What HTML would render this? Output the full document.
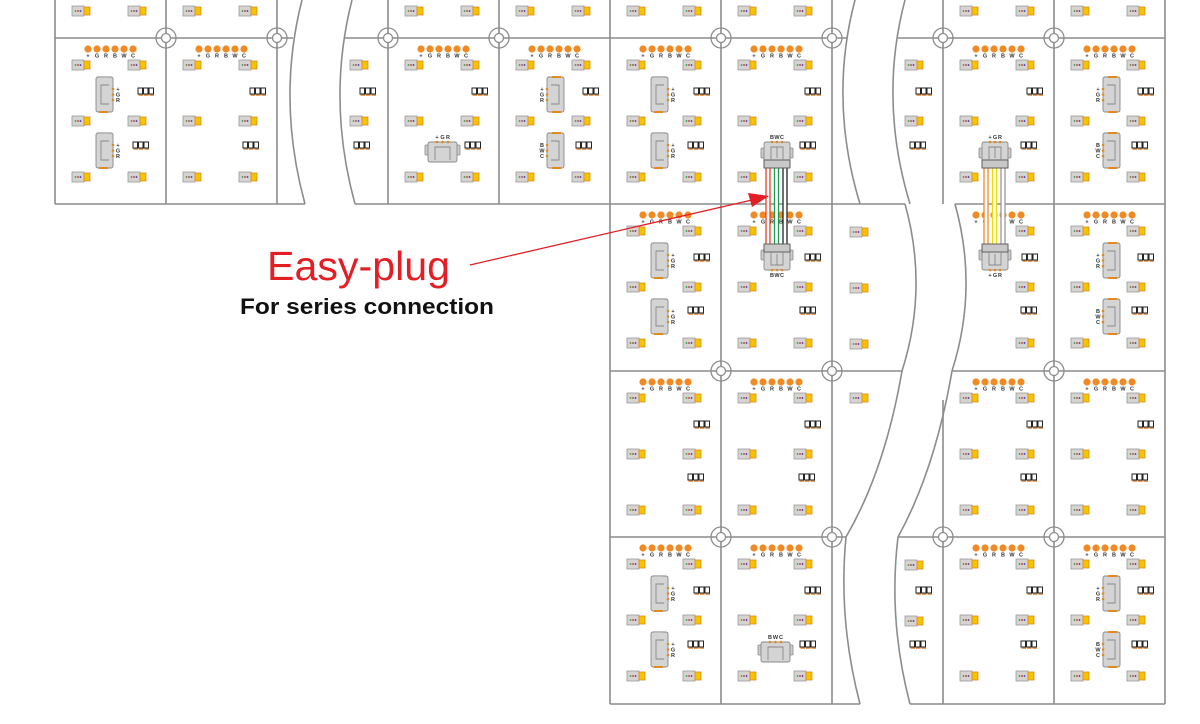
<!DOCTYPE html>
<html><head><meta charset="utf-8">
<style>
html,body{margin:0;padding:0;background:#fff;}
svg{display:block;}
</style></head>
<body>
<svg id="s" width="1200" height="724" viewBox="0 0 1200 724" xmlns="http://www.w3.org/2000/svg" font-family="Liberation Sans, sans-serif">
<g id="grid" fill="none" stroke="#8c8c8c" stroke-width="1.6">
<path d="M55,0V204M166,0V204M277,0V204M55,38H293M55,204H305"/>
<path d="M302,0Q276.5,100 305,204M352,0Q326.5,100 355,204"/>
<path d="M345,38H847M388,0V204M499,0V204M610,0V204M721,0V204M832,0V204M355,204H905"/>
<path d="M855,0Q828.5,100 860,204M905,0Q878.5,100 910,204"/>
<path d="M898,38H1165M943,0V204M1054,0V204M1165,0V704M955,204H1165"/>
<path d="M610,204V704M721,204V704M832,204V704M1054,204V704"/>
<path d="M905,204Q928.5,288 902,371M955,204Q978.5,288 952,371"/>
<path d="M610,371H902M952,371H1165"/>
<path d="M902,371Q885,470 846,537M952,371Q935,470 898,537"/>
<path d="M943,400V704M610,537H846M898,537H1165"/>
<path d="M846,537Q838,620 860,704M898,537Q888,620 910,704"/>
<path d="M610,704H860M910,704H1165"/>
</g>
<g id="c"></g>
<g>
<text x="267" y="280" font-size="41" fill="#e31e24" textLength="183" lengthAdjust="spacingAndGlyphs">Easy-plug</text>
<text x="240" y="314" font-size="22" font-weight="bold" fill="#111" textLength="254" lengthAdjust="spacingAndGlyphs">For series connection</text>
<line x1="470" y1="265" x2="752" y2="200" stroke="#e31e24" stroke-width="1.3"/>
<polygon points="769,196 748,193 752,207" fill="#e31e24"/>
</g>
</svg>
<script>
var o=[];
function led(x,y){o.push('<rect x="'+x+'" y="'+(y-5)+'" width="12" height="10" fill="#d6d3d0" stroke="#9a9a9a" stroke-width="0.8"/>'+
'<circle cx="'+(x+3.5)+'" cy="'+y+'" r="0.9" fill="#2a9d4a"/><circle cx="'+(x+6)+'" cy="'+y+'" r="0.9" fill="#d22"/><circle cx="'+(x+8.5)+'" cy="'+y+'" r="0.9" fill="#33c"/>'+
'<rect x="'+(x+12)+'" y="'+(y-4)+'" width="6" height="8" fill="#f4c400" stroke="#e08a20" stroke-width="0.8"/>');}
function leds(px,py,left){var ys=[27,83,139];for(var i=0;i<3;i++){if(left!==false)led(px+17,py+ys[i]);led(px+73,py+ys[i]);}}
function ddd(x,y){for(var i=0;i<3;i++){o.push('<rect x="'+(x+i*5.5+0.5)+'" y="'+(y-2)+'" width="4.5" height="6" fill="#e8a060"/><rect x="'+(x+i*5.5)+'" y="'+(y-4)+'" width="4.5" height="6" fill="#fff" stroke="#222" stroke-width="1"/>');}}
var L=['+','G','R','B','W','C'];
function dots(px,py){for(var i=0;i<6;i++){var x=px+33+9*i;o.push('<circle cx="'+x+'" cy="'+(py+11)+'" r="3.6" fill="#f08a24"/><text x="'+x+'" y="'+(py+19.5)+'" font-size="5.5" font-weight="bold" text-anchor="middle" fill="#333">'+L[i]+'</text>');}}
function vconn(x,y,side,lab){
 o.push('<rect x="'+x+'" y="'+y+'" width="17" height="35" rx="2" fill="#d4d4d4" stroke="#888" stroke-width="0.9"/>');
 if(side=='r'){o.push('<path d="M'+(x+13)+','+(y+8)+'H'+(x+5)+'V'+(y+27)+'H'+(x+13)+'" fill="none" stroke="#888" stroke-width="0.9"/><rect x="'+(x+3)+'" y="'+(y-1)+'" width="9" height="2" fill="#bbb"/><rect x="'+(x+3)+'" y="'+(y+34)+'" width="9" height="2" fill="#e08a20"/>');
  for(var i=0;i<3;i++){o.push('<circle cx="'+(x+17)+'" cy="'+(y+12+i*5.5)+'" r="1.3" fill="#e08a20"/><text x="'+(x+22)+'" y="'+(y+14+i*5.5)+'" font-size="5.5" font-weight="bold" text-anchor="middle" fill="#333">'+lab[i]+'</text>');}}
 else{o.push('<path d="M'+(x+4)+','+(y+8)+'H'+(x+12)+'V'+(y+27)+'H'+(x+4)+'" fill="none" stroke="#888" stroke-width="0.9"/><rect x="'+(x+5)+'" y="'+(y-1)+'" width="9" height="2" fill="#e08a20"/><rect x="'+(x+5)+'" y="'+(y+34)+'" width="9" height="2" fill="#e08a20"/>');
  for(var i=0;i<3;i++){o.push('<circle cx="'+x+'" cy="'+(y+12+i*5.5)+'" r="1.3" fill="#e08a20"/><text x="'+(x-5)+'" y="'+(y+14+i*5.5)+'" font-size="5.5" font-weight="bold" text-anchor="middle" fill="#333">'+lab[i]+'</text>');}}
}
function hconn(x,y,lab,below){
 o.push('<rect x="'+x+'" y="'+(y+3)+'" width="4" height="10" rx="1" fill="#ccc" stroke="#888" stroke-width="0.8"/><rect x="'+(x+31)+'" y="'+(y+3)+'" width="4" height="10" rx="1" fill="#ccc" stroke="#888" stroke-width="0.8"/>');
 o.push('<rect x="'+(x+3)+'" y="'+y+'" width="29" height="20" rx="2" fill="#d4d4d4" stroke="#888" stroke-width="0.9"/><path d="M'+(x+10)+','+(y+18)+'V'+(y+5)+'H'+(x+25)+'V'+(y+18)+'" fill="none" stroke="#888" stroke-width="0.9"/>');
 for(var i=0;i<3;i++){var cx=x+12+i*5.5;o.push('<circle cx="'+cx+'" cy="'+(below?y+20:y)+'" r="1.3" fill="#e08a20"/><text x="'+cx+'" y="'+(below?y+28:y-3)+'" font-size="5.5" font-weight="bold" text-anchor="middle" fill="#333">'+lab[i]+'</text>');}
}
function plug(x,y,lab,bottom){
 // connector body; y is top of body, height 26
 o.push('<rect x="'+(x)+'" y="'+(y+6)+'" width="4" height="10" rx="1" fill="#ccc" stroke="#888" stroke-width="0.8"/><rect x="'+(x+28)+'" y="'+(y+6)+'" width="4" height="10" rx="1" fill="#ccc" stroke="#888" stroke-width="0.8"/>');
 o.push('<rect x="'+(x+3)+'" y="'+y+'" width="26" height="26" rx="2" fill="#d4d4d4" stroke="#888" stroke-width="0.9"/>');
 if(!bottom){o.push('<rect x="'+(x+3)+'" y="'+(y+18)+'" width="26" height="8" fill="#c8c8c8" stroke="#555" stroke-width="0.9"/><path d="M'+(x+10)+','+(y+18)+'V'+(y+5)+'H'+(x+22)+'V'+(y+18)+'M'+(x+16)+','+(y+5)+'V'+(y+16)+'" fill="none" stroke="#888" stroke-width="0.9"/>');
  for(var i=0;i<3;i++){var cx=x+11+i*5;o.push('<circle cx="'+cx+'" cy="'+y+'" r="1.3" fill="#e08a20"/><text x="'+cx+'" y="'+(y-3)+'" font-size="5.5" font-weight="bold" text-anchor="middle" fill="#333">'+lab[i]+'</text>');}}
 else{o.push('<rect x="'+(x+3)+'" y="'+y+'" width="26" height="8" fill="#c8c8c8" stroke="#555" stroke-width="0.9"/><path d="M'+(x+10)+','+(y+8)+'V'+(y+21)+'H'+(x+22)+'V'+(y+8)+'M'+(x+16)+','+(y+10)+'V'+(y+21)+'" fill="none" stroke="#888" stroke-width="0.9"/>');
  for(var i=0;i<3;i++){var cx=x+11+i*5;o.push('<circle cx="'+cx+'" cy="'+(y+26)+'" r="1.3" fill="#e08a20"/><text x="'+cx+'" y="'+(y+33)+'" font-size="5.5" font-weight="bold" text-anchor="middle" fill="#333">'+lab[i]+'</text>');}}
}
function wires(x,y1,y2,cols){for(var i=0;i<3;i++){o.push('<rect x="'+(x+i*8.5)+'" y="'+y1+'" width="4" height="'+(y2-y1)+'" fill="#fff" stroke="'+cols[i]+'" stroke-width="1.3"/>');}}
// partial top row
[55,166,388,499,610,721,943,1054].forEach(function(px){led(px+17,11);led(px+73,11);});
var GR=['+','G','R'],BWC=['B','W','C'];
// row1
var py=38;
dots(55,py);leds(55,py);vconn(96,py+39,'r',GR);vconn(96,py+95,'r',GR);ddd(138,92);ddd(133,146);
dots(166,py);leds(166,py);ddd(250,92);ddd(243,146);
led(350,65);led(350,121);ddd(360,92);ddd(354,146);
dots(388,py);leds(388,py);ddd(472,92);ddd(465,146);hconn(425,142,GR,false);
dots(499,py);leds(499,py);vconn(547,py+39,'l',GR);vconn(547,py+95,'l',BWC);ddd(583,92);ddd(576,146);
dots(610,py);leds(610,py);vconn(651,py+39,'r',GR);vconn(651,py+95,'r',GR);ddd(694,92);ddd(688,146);
dots(721,py);leds(721,py);ddd(805,92);ddd(800,146);
led(905,65);led(905,121);ddd(916,92);ddd(910,146);
dots(943,py);leds(943,py);ddd(1027,92);ddd(1021,146);
dots(1054,py);leds(1054,py);vconn(1103,py+39,'l',GR);vconn(1103,py+95,'l',BWC);ddd(1138,92);ddd(1132,146);
// row2
py=204;
dots(610,py);leds(610,py);vconn(651,py+39,'r',GR);vconn(651,py+95,'r',GR);ddd(694,258);ddd(688,311);
dots(721,py);leds(721,py);ddd(805,258);ddd(800,311);
led(850,232);led(850,288);led(850,344);
dots(943,py);leds(943,py,false);ddd(1022,258);ddd(1021,311);
dots(1054,py);leds(1054,py);vconn(1103,py+39,'l',GR);vconn(1103,py+95,'l',BWC);ddd(1138,258);ddd(1132,311);
// plugs & wires
wires(766,166,248,['#e8402a','#1a9a50','#222']);
plug(761,142,BWC,false);plug(761,244,BWC,true);
wires(984,166,248,['#f08a24','#f4d800','#999']);
plug(979,142,GR,false);plug(979,244,GR,true);
// row3
py=371;
[610,721,943,1054].forEach(function(px){dots(px,py);leds(px,py);ddd(px+84,py+54);ddd(px+78,py+107);});
led(850,398);
// row4
py=537;
dots(610,py);leds(610,py);vconn(651,py+39,'r',GR);vconn(651,py+95,'r',GR);ddd(694,591);ddd(688,645);
dots(721,py);leds(721,py);ddd(805,591);ddd(800,645);hconn(758,642,BWC,false);
led(905,565);led(905,621);ddd(916,591);ddd(910,645);
dots(943,py);leds(943,py);ddd(1027,591);ddd(1021,645);
dots(1054,py);leds(1054,py);vconn(1103,py+39,'l',GR);vconn(1103,py+95,'l',BWC);ddd(1138,591);ddd(1132,645);
// mount holes
[[166,38],[277,38],[388,38],[499,38],[721,38],[832,38],[943,38],[1054,38],[721,371],[832,371],[1054,371],[721,537],[832,537],[943,537],[1054,537]].forEach(function(p){
o.push('<circle cx="'+p[0]+'" cy="'+p[1]+'" r="10" fill="none" stroke="#8c8c8c" stroke-width="1.3"/><circle cx="'+p[0]+'" cy="'+p[1]+'" r="4.5" fill="#fff" stroke="#8c8c8c" stroke-width="1.3"/>');});
document.getElementById('c').innerHTML=o.join('');
</script>
</body></html>
